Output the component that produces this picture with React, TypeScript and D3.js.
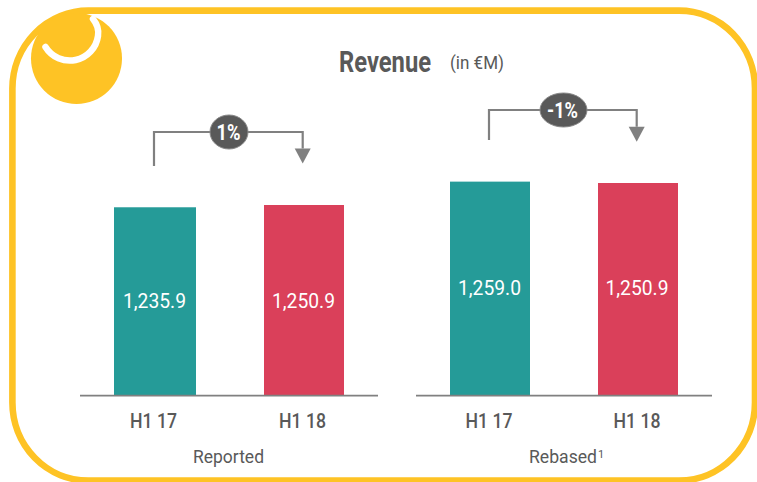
import React from "react";
import * as d3 from "d3";

const categories = ["H1 17", "H1 18"];
const reportedValues = [1235.9, 1250.9];
const rebasedValues = [1259.0, 1250.9];
const reportedChange = "1%";
const rebasedChange = "-1%";
const FONT = "Roboto, 'Liberation Sans', sans-serif";
const TEAL = "#259b98";
const RED = "#da405a";
const GOLD = "#fec325";
const GREY = "#808080";
const TEXT = "#595959";
const DARK = "#595959";

function T({ x, y, w, size, fill = TEXT, weight = 400, children }: any) {
  return (
    <text x={x} y={y} fontSize={size} fontWeight={weight} fill={fill} textLength={w} lengthAdjust="spacingAndGlyphs">
      {children}
    </text>
  );
}

type PanelProps = {
  values: number[];
  xs: number[];
  barW: number[];
  axis: number[];
  maxH: number;
  maxV: number;
  valueX: number[];
  valueY: number[];
  catX: number[];
  change: string;
  changeX: number;
  changeW: number;
  bracket: { x1: number; x2: number; y: number; y0: number; yA: number; cx: number; rx: number; ry: number };
  children?: React.ReactNode;
};

function Panel({ values, xs, barW, axis, maxH, maxV, valueX, valueY, catX, change, changeX, changeW, bracket, children }: PanelProps) {
  const baseY = 395;
  const y = d3.scaleLinear().domain([0, maxV]).range([baseY, baseY - maxH]);
  const b = bracket;
  const path = d3.path();
  path.moveTo(b.x1, b.y0);
  path.lineTo(b.x1, b.y);
  path.lineTo(b.x2, b.y);
  path.lineTo(b.x2, b.yA - 15);
  return (
    <g fontFamily={FONT}>
      {values.map((v, i) => (
        <g key={i}>
          <rect x={xs[i]} y={y(v)} width={barW[i]} height={baseY - y(v)} fill={i === 0 ? TEAL : RED} />
          <T x={valueX[i]} y={valueY[i]} w={63} size={20} fill="#fff" weight={400}>
            {d3.format(",.1f")(v)}
          </T>
          <T x={catX[i]} y={428} w={47} size={20} weight={500}>
            {categories[i]}
          </T>
        </g>
      ))}
      <line x1={axis[0]} x2={axis[1]} y1={395.7} y2={395.7} stroke={GREY} strokeWidth={1.7} />
      {children}
      <path d={path.toString()} fill="none" stroke={GREY} strokeWidth={2.2} />
      <path d={`M${b.x2 - 8},${b.yA - 15}L${b.x2 + 8},${b.yA - 15}L${b.x2},${b.yA}Z`} fill={GREY} />
      <ellipse cx={b.cx} cy={b.y} rx={b.rx} ry={b.ry} fill={DARK} stroke="#8a8a8a" strokeWidth={1} />
      <T x={changeX} y={b.y + 7.500} w={changeW} size={22} weight={700} fill="#fff">{change}</T>
    </g>
  );
}

export default function App() {
  return (
    <svg width={757} height={482} style={{ position: "fixed", left: 0, top: 0, background: "#fff" }}>
      <rect x={12.4} y={10.6} width={742.6} height={470} rx={76} ry={78} fill="none" stroke={GOLD} strokeWidth={6.6} />
      <circle cx={76.5} cy={58.5} r={45.5} fill={GOLD} />
      <path d="M45.500,47 A28.500,28.500 0 0 0 98,36 Q99.500,27 93,19" fill="none" stroke="#fff" strokeWidth={6.5} strokeLinecap="round" />
      <g fontFamily={FONT}>
        <T x={339} y={72} w={92} size={29} weight={700}>Revenue</T>
        <T x={450} y={69} w={54} size={19} weight={400}>(in €M)</T>
      </g>
      <Panel
        values={reportedValues}
        xs={[114, 264]}
        barW={[82, 80]}
        axis={[80, 378]}
        maxH={190}
        maxV={1250.9}
        valueX={[123, 272]}
        valueY={[308, 308]}
        catX={[130, 279]}
        change={reportedChange}
        changeX={216.5}
        changeW={24}
        bracket={{ x1: 154, x2: 302.7, y: 132, y0: 166, yA: 163.5, cx: 229, rx: 19, ry: 17 }}
      >
        <T x={193} y={463} w={71} size={19} weight={400}>Reported</T>
      </Panel>
      <Panel
        values={rebasedValues}
        xs={[450, 598]}
        barW={[80, 80]}
        axis={[416, 712]}
        maxH={212}
        maxV={1250.9}
        valueX={[458, 605.500]}
        valueY={[295, 295]}
        catX={[465.500, 613.500]}
        change={rebasedChange}
        changeX={547}
        changeW={31}
        bracket={{ x1: 489, x2: 636.7, y: 110, y0: 140, yA: 141.7, cx: 563.5, rx: 23.5, ry: 17 }}
      >
        <T x={529} y={463} w={68} size={19} weight={400}>Rebased</T>
        <text x={598} y={458} fontSize={11} fontWeight={400} fill={TEXT}>1</text>
      </Panel>
    </svg>
  );
}
